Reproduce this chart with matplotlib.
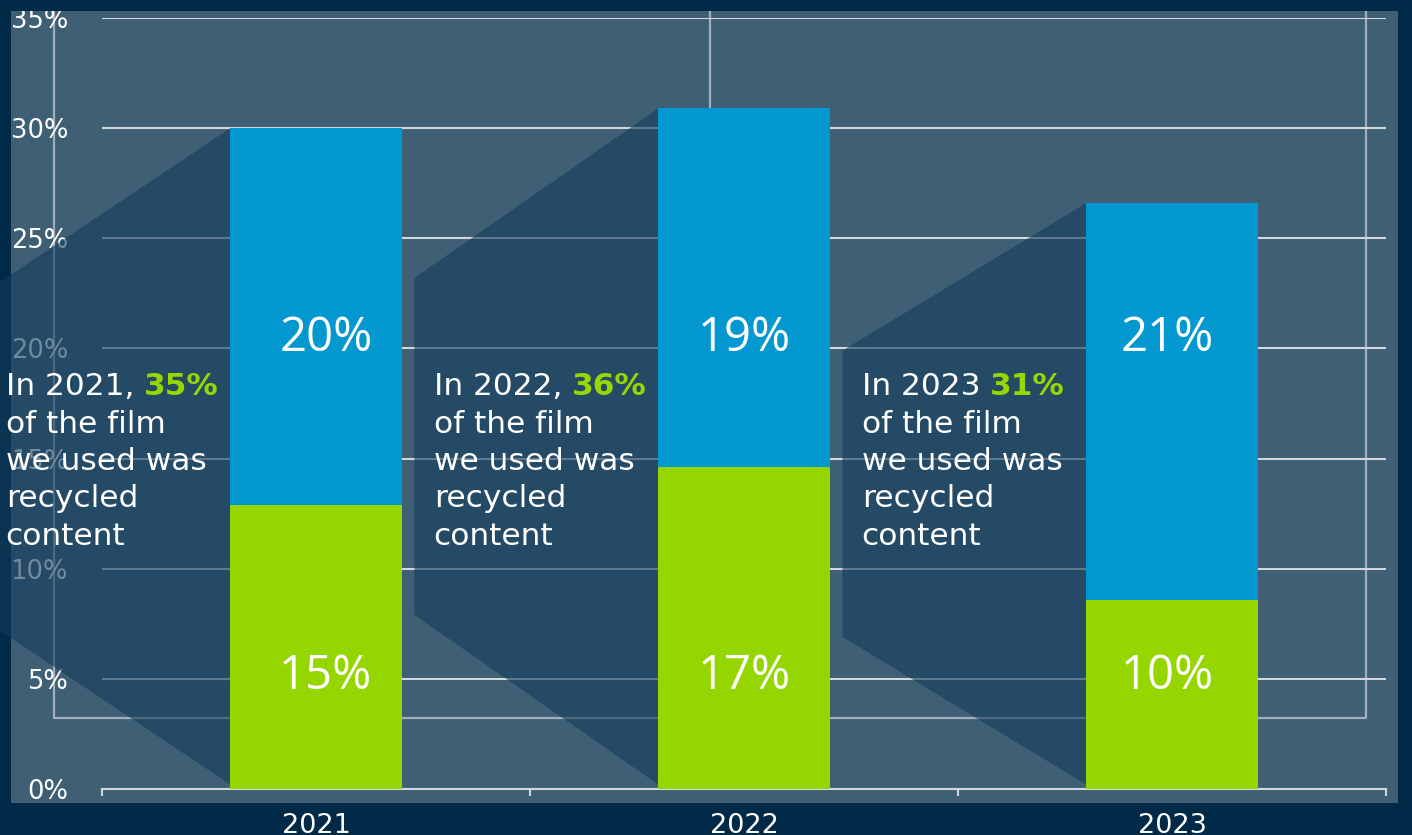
import matplotlib.pyplot as plt
from matplotlib.patches import Polygon, Rectangle
from matplotlib.lines import Line2D

years = ['2021', '2022', '2023']
green_vals = [12.9, 14.6, 8.6]
blue_vals = [17.1, 16.3, 18.0]
green_labels = ['15%', '17%', '10%']
blue_labels = ['20%', '19%', '21%']
intro = ['In 2021, ', 'In 2022, ', 'In 2023 ']
recycled = ['35%', '36%', '31%']
rest_lines = ['of the film', 'we used was', 'recycled', 'content']
yticks = [0, 5, 10, 15, 20, 25, 30, 35]

NAVY = '#012a48'
SLATE = '#3f5f75'
BLUE = '#0398d0'
GREEN = '#95d600'
LIME = '#97d700'
GRID = '#d2d7dc'
FRAME = '#a3aeb8'
SHADE = (18 / 255, 60 / 255, 92 / 255)

W, H = 1412, 835
fig = plt.figure(figsize=(W / 100, H / 100), dpi=100, facecolor=NAVY)

# slate panel behind the chart
fig.add_artist(Rectangle((11 / W, 1 - 803 / H), (1398 - 11) / W, (803 - 11) / H,
                         transform=fig.transFigure, facecolor=SLATE,
                         edgecolor='none', zorder=-2))


def frame_line(xs, ys):
    fig.add_artist(Line2D([v / W for v in xs], [1 - v / H for v in ys],
                          transform=fig.transFigure, color=FRAME, lw=1.6,
                          zorder=-1))


# decorative frame in the background
frame_line([54, 54, 1366, 1366], [11, 718, 718, 11])
frame_line([710, 710], [11, 718])

ax = fig.add_axes([102 / W, 1 - 789 / H, (1386 - 102) / W, (789 - 18) / H])
ax.set_facecolor('none')
x = list(range(len(years)))

ax.bar(x, green_vals, width=0.4, color=GREEN, zorder=3)
ax.bar(x, blue_vals, width=0.4, bottom=green_vals, color=BLUE, zorder=3)

# dark ribbons leading into each bar
drops = [7.4, 7.7, 6.7]
for i in x:
    left = i - 0.2
    top = green_vals[i] + blue_vals[i]
    d = drops[i]
    ax.add_patch(Polygon([(left, top), (left, 0.2), (left - 0.57, 0.2 + d),
                          (left - 0.57, top - d)], closed=True,
                         facecolor=SHADE, alpha=0.6, lw=0, zorder=1,
                         clip_on=False))

label_dx = [0.023, 0, -0.01]  # labels are not quite centred in the original
for i in x:
    ax.text(i + label_dx[i], 20.45, blue_labels[i], ha='center', va='center',
            fontsize=34, family='Open Sans', color='white', zorder=5)
    ax.text(i + label_dx[i], 5.12, green_labels[i], ha='center', va='center',
            fontsize=34, family='Open Sans', color='white', zorder=5)

    tx = i - 0.725
    t1 = ax.text(tx, 18.25, intro[i], ha='left', va='center', fontsize=22.5,
                 color='white', zorder=5)
    ax.annotate(recycled[i], xy=(1, 0), xycoords=t1, ha='left', va='bottom',
                fontsize=22.5, fontweight='bold', color=LIME, zorder=5)
    for j, s in enumerate(rest_lines):
        ax.text(tx, 18.25 - (j + 1) * 1.693, s, ha='left', va='center',
                fontsize=22.5, color='white', zorder=5)

ax.set_xlim(-0.5, 2.5)
ax.set_ylim(0, 35)
ax.set_yticks(yticks)
ax.set_yticklabels([f'{v}%' for v in yticks])
ax.set_xticks(x)
ax.set_xticklabels(years)
ax.set_xticks([-0.5, 0.5, 1.5, 2.5], minor=True)

ax.tick_params(axis='y', length=0, pad=24.5, labelsize=18.5, labelcolor='white')
ax.tick_params(axis='x', which='major', length=0, pad=17, labelsize=19.5,
               labelcolor='white')
ax.tick_params(axis='x', which='minor', length=5, width=1.5, color=GRID)

for side in ['top', 'left', 'right']:
    ax.spines[side].set_visible(False)
ax.spines['bottom'].set_color(GRID)
ax.spines['bottom'].set_linewidth(1.5)

ax.yaxis.grid(True, color=GRID, lw=1.5)
ax.set_axisbelow(True)

# navy strip at the top clips the 35% label like in the original
fig.add_artist(Rectangle((0, 1 - 11 / H), 1, 11 / H, transform=fig.transFigure,
                         facecolor=NAVY, edgecolor='none', zorder=10))

fig.savefig('out.png', dpi=100, facecolor=NAVY)
